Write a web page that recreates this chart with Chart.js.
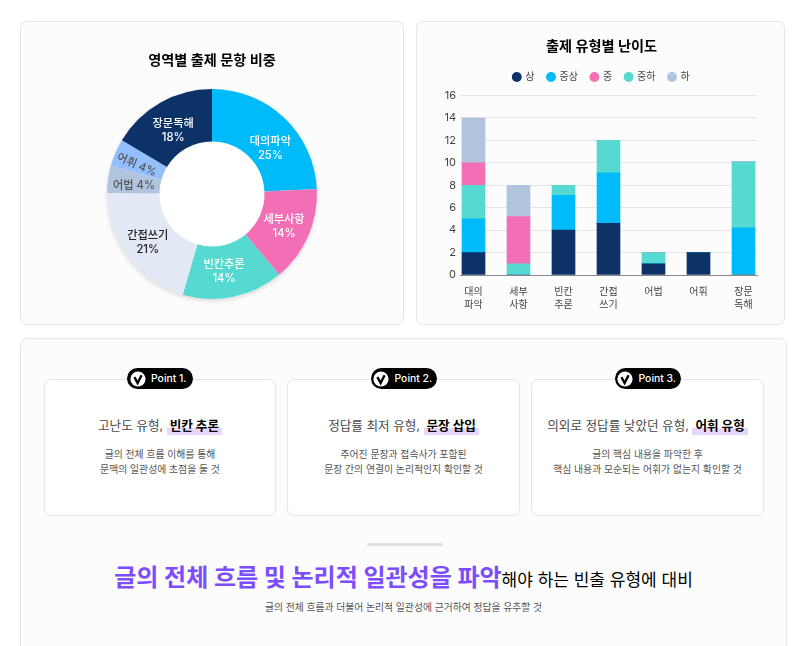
<!DOCTYPE html>
<html lang="ko">
<head>
<meta charset="utf-8">
<title>출제 유형 분석</title>
<script src="https://cdn.jsdelivr.net/npm/chart.js@4"></script>
<style>
  * { box-sizing: border-box; }
  html, body { margin: 0; height: 100%; overflow: hidden; background: #fff; }
  body { font-family: Inter, "Noto Sans CJK KR", sans-serif; color: #444; }
  .card { position: absolute; background: #fcfcfc; border: 1px solid #e5e5e5; border-radius: 7px; }
  #pieCard { left: 20px; top: 21px; width: 384px; height: 304px; }
  #barCard { left: 416px; top: 21px; width: 369px; height: 304px; }
  #bottomCard { left: 20px; top: 338px; width: 767px; height: 330px; }
  canvas { position: absolute; left: 0; top: 0; }
  .point { position: absolute; top: 40px; width: 233px; height: 137px; background: #fff; border: 1px solid #e5e5e5; border-radius: 7px; text-align: center; }
  .badge { position: absolute; top: -12px; left: 50%; transform: translateX(-50%); width: 66px; height: 21px; border-radius: 11px; background: #000; color: #fff; font-size: 10.4px; font-weight: 500; line-height: 21px; padding-left: 24px; text-align: left; white-space: nowrap; }
  .badge svg { position: absolute; left: 2.5px; top: 2.5px; }
  .point h3 { margin: 37px 0 0; font-size: 12.6px; font-weight: 400; line-height: 18px; color: #4a4a4a; white-space: nowrap; }
  .point h3 b { font-weight: 700; color: #000; padding: 0 3px 2px; background: linear-gradient(transparent 58%, #e6d5fc 58%); }
  .point p { margin: 12px 0 0; font-size: 9.85px; line-height: 15px; color: #555; }
  .rule { position: absolute; left: 346px; top: 204px; width: 76px; height: 3px; border-radius: 2px; background: #e0e0e0; }
  .big { position: absolute; left: 0; width: 100%; top: 221px; text-align: center; white-space: nowrap; font-size: 17px; line-height: 36px; color: #000; }
  .big strong { font-size: 24px; font-weight: 700; color: #7c4dff; }
  .small { position: absolute; left: 0; width: 100%; top: 262px; text-align: center; font-size: 9.8px; line-height: 14px; color: #555; }
</style>
</head>
<body>
<div class="card" id="pieCard"><canvas id="pieChart"></canvas></div>
<div class="card" id="barCard"><canvas id="barChart"></canvas></div>
<div class="card" id="bottomCard">
  <div class="point" style="left:23px;width:232px">
    <div class="badge"><svg width="16" height="16" viewBox="0 0 16 16"><circle cx="8" cy="8" r="7.6" fill="#fff"/><path d="M4.4 6.2 7.6 12 11.6 4.2" fill="none" stroke="#000" stroke-width="2.4"/></svg>Point 1.</div>
    <h3>고난도 유형, <b>빈칸 추론</b></h3>
    <p>글의 전체 흐름 이해를 통해<br>문맥의 일관성에 초점을 둘 것</p>
  </div>
  <div class="point" style="left:266px">
    <div class="badge"><svg width="16" height="16" viewBox="0 0 16 16"><circle cx="8" cy="8" r="7.6" fill="#fff"/><path d="M4.4 6.2 7.6 12 11.6 4.2" fill="none" stroke="#000" stroke-width="2.4"/></svg>Point 2.</div>
    <h3>정답률 최저 유형, <b>문장 삽입</b></h3>
    <p>주어진 문장과 접속사가 포함된<br>문장 간의 연결이 논리적인지 확인할 것</p>
  </div>
  <div class="point" style="left:510px">
    <div class="badge"><svg width="16" height="16" viewBox="0 0 16 16"><circle cx="8" cy="8" r="7.6" fill="#fff"/><path d="M4.4 6.2 7.6 12 11.6 4.2" fill="none" stroke="#000" stroke-width="2.4"/></svg>Point 3.</div>
    <h3>의외로 정답률 낮았던 유형, <b>어휘 유형</b></h3>
    <p>글의 핵심 내용을 파악한 후<br>핵심 내용과 모순되는 어휘가 없는지 확인할 것</p>
  </div>
  <div class="rule"></div>
  <div class="big"><strong>글의 전체 흐름 및 논리적 일관성을 파악</strong>해야 하는 빈출 유형에 대비</div>
  <div class="small">글의 전체 흐름과 더불어 논리적 일관성에 근거하여 정답을 유추할 것</div>
</div>

<script>
const FONT = 'Inter, "Noto Sans CJK KR", sans-serif';

// donut
const pieNames = ['대의파악', '세부사항', '빈칸추론', '간접쓰기', '어법', '어휘', '장문독해'];
const pieShares = [24.2, 14.7, 15.5, 20.6, 4.2, 4.2, 16.4];
const pieLabels = ['25%', '14%', '14%', '21%', '4%', '4%', '18%'];
const pieColors = ['#00bbf9', '#f26fb6', '#55d9d0', '#e2e9f5', '#b0c4de', '#94bfff', '#0d3268'];
const pieTextColors = ['#fff', '#fff', '#fff', '#222', '#555', '#555', '#fff'];
// hand nudges so the labels land where the picture has them, [dx, dy] per slice
const labelNudge = [[4, 12], [0, 1], [-4, 1], [-1, 2], [0, 3], [-3, 2], [0, 5]];

// stacked bars
const barCategories = [['대의', '파악'], ['세부', '사항'], ['빈칸', '추론'], ['간접', '쓰기'], '어법', '어휘', ['장문', '독해']];
const levelHigh = [2, 0, 4, 4.6, 1, 2, 0];
const levelMidHigh = [3, 0, 3.1, 4.5, 0, 0, 4.2];
const levelMidLow = [3, 1, 0.9, 2.9, 1, 0, 5.9];
const levelMid = [2, 4.2, 0, 0, 0, 0, 0];
const levelLow = [4, 2.8, 0, 0, 0, 0, 0];
const yTicksMax = 16;

// writes the name/percent on each slice, the two thin ones on one tilted line
const sliceLabels = {
  id: 'sliceLabels',
  afterDatasetsDraw(chart) {
    const ctx = chart.ctx;
    chart.getDatasetMeta(0).data.forEach((arc, i) => {
      const p = arc.getCenterPoint();
      const thin = pieShares[i] < 5;
      ctx.save();
      ctx.font = '500 11.2px ' + FONT;
      ctx.fillStyle = pieTextColors[i];
      ctx.textAlign = 'center';
      ctx.textBaseline = 'middle';
      ctx.translate(p.x + labelNudge[i][0], p.y + labelNudge[i][1]);
      if (thin) {
        const mid = (arc.startAngle + arc.endAngle) / 2;
        ctx.rotate(i === 4 ? 0 : mid + Math.PI);
        ctx.fillText(pieNames[i] + ' ' + pieLabels[i], 0, 0);
      } else {
        ctx.fillText(pieNames[i], 0, -7);
        ctx.fillText(pieLabels[i], 0, 7);
      }
      ctx.restore();
    });
  }
};

// white disc with a faint shadow behind the slices, also gives the white hole
const softShadow = {
  id: 'softShadow',
  beforeDatasetsDraw(chart) {
    const ctx = chart.ctx;
    const arc = chart.getDatasetMeta(0).data[0];
    ctx.save();
    ctx.shadowColor = 'rgba(0,0,0,0.14)';
    ctx.shadowBlur = 4;
    ctx.shadowOffsetY = 2;
    ctx.fillStyle = '#fff';
    ctx.beginPath();
    ctx.arc(arc.x, arc.y, arc.outerRadius, 0, Math.PI * 2);
    ctx.fill();
    ctx.restore();
  }
};

// more air under the legend than labels.padding gives, title and legend 2px right of centre
const barHeader = {
  id: 'barHeader',
  beforeInit(chart) {
    const fit = chart.legend.fit;
    chart.legend.fit = function () {
      fit.call(this);
      this.height += 3.5;
    };
  },
  afterLayout(chart) {
    [chart.titleBlock, chart.legend].forEach((box) => {
      box.left += 2;
      box.right += 2;
    });
  }
};

function sizeCanvas(id, w, h) {
  const c = document.getElementById(id);
  c.width = w;
  c.height = h;
  c.style.width = w + 'px';
  c.style.height = h + 'px';
  return c;
}

new Chart(sizeCanvas('pieChart', 382, 302), {
  type: 'doughnut',
  data: {
    labels: pieNames,
    datasets: [{ data: pieShares, backgroundColor: pieColors, borderWidth: 0, hoverOffset: 0 }]
  },
  options: {
    responsive: false,
    animation: false,
    cutout: '50%',
    layout: { padding: { top: 30, bottom: 25 } },
    plugins: {
      legend: { display: false },
      tooltip: { enabled: false },
      title: {
        display: true,
        text: '영역별 출제 문항 비중',
        color: '#000',
        font: { family: FONT, size: 14.2, weight: 'bold' },
        padding: { top: 0, bottom: 20 }
      }
    }
  },
  plugins: [softShadow, sliceLabels]
});

function series(label, values, color) {
  return {
    label: label,
    data: values.map((v, i) => ({ x: i, y: v })),
    backgroundColor: color,
    borderWidth: 0,
    barThickness: 23
  };
}

const legendOrder = ['상', '중상', '중', '중하', '하'];

new Chart(sizeCanvas('barChart', 367, 302), {
  type: 'bar',
  data: {
    datasets: [
      series('상', levelHigh, '#0d3268'),
      series('중상', levelMidHigh, '#00bbf9'),
      series('중하', levelMidLow, '#55d9d0'),
      series('중', levelMid, '#f26fb6'),
      series('하', levelLow, '#b0c4de')
    ]
  },
  options: {
    responsive: false,
    animation: false,
    layout: { padding: { top: 16, right: 27, bottom: 0, left: 25 } },
    plugins: {
      tooltip: { enabled: false },
      title: {
        display: true,
        text: '출제 유형별 난이도',
        color: '#000',
        font: { family: FONT, size: 14.2, weight: 'bold' },
        padding: { top: 0, bottom: 4 }
      },
      legend: {
        labels: {
          usePointStyle: true,
          pointStyle: 'circle',
          boxWidth: 7,
          boxHeight: 7,
          padding: 13,
          color: '#444',
          font: { family: FONT, size: 10 },
          sort: (a, b) => legendOrder.indexOf(a.text) - legendOrder.indexOf(b.text)
        }
      }
    },
    scales: {
      x: {
        type: 'linear',
        stacked: true,
        offset: false,
        min: -0.3,
        max: 6.3,
        grid: { display: false },
        border: { color: '#888' },
        afterBuildTicks: (scale) => { scale.ticks = barCategories.map((_, i) => ({ value: i })); },
        afterFit: (scale) => { scale.height = 49; },
        ticks: {
          autoSkip: false,
          maxRotation: 0,
          padding: 2,
          color: '#444',
          font: { family: FONT, size: 10, lineHeight: 1.3 },
          callback: (v) => barCategories[v]
        }
      },
      y: {
        stacked: true,
        min: 0,
        max: yTicksMax,
        afterFit: (scale) => { scale.width = 18; },
        grid: { color: '#e5e5e5', drawTicks: false },
        border: { display: false },
        ticks: { stepSize: 2, padding: 4, color: '#444', font: { family: FONT, size: 11 } }
      }
    }
  },
  plugins: [barHeader]
});
</script>
</body>
</html>
